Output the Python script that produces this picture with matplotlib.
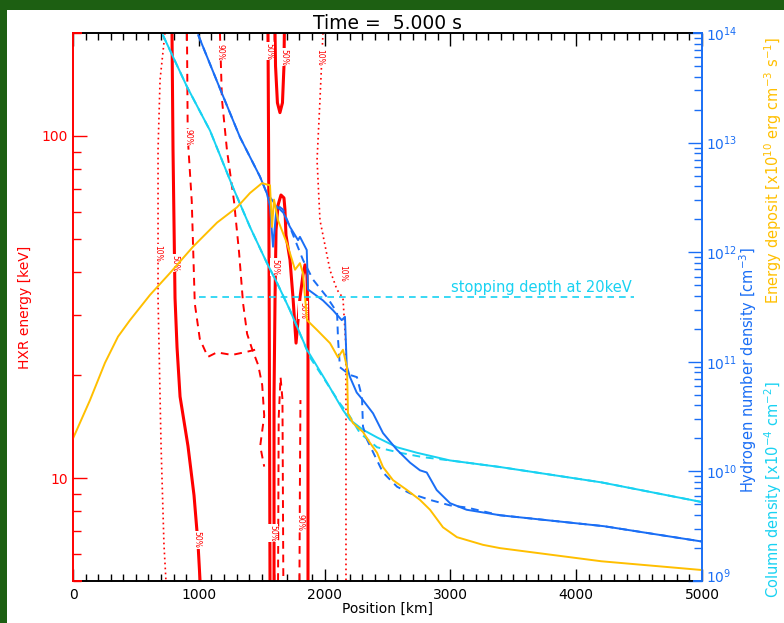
import matplotlib
matplotlib.use("Agg")
import matplotlib.pyplot as plt
from matplotlib.ticker import LogLocator, NullFormatter, FixedLocator, MultipleLocator
from matplotlib.transforms import ScaledTranslation
import numpy as np

plt.rcParams['font.family'] = ['DejaVu Sans']
plt.rcParams['mathtext.default'] = 'regular'

RED = '#ff0000'
BLUE = '#1a6ef5'
CYAN = '#18d2f2'
YEL = '#ffbf00'

# hydrogen number density (log10 cm^-3), t = 5 s (solid) and reference (dashed)
dens_x = [996, 1155, 1327, 1486, 1540, 1566, 1590, 1619, 1672, 1725, 1789, 1804, 1858, 1868,
          1987, 2067, 2136, 2162, 2176, 2202, 2255, 2305, 2385, 2464, 2573, 2679, 2758, 2812,
          2891, 2997, 3129, 3394, 4221, 5000]
dens_y = [13.98, 13.53, 13.05, 12.69, 12.54, 12.42, 12.05, 12.42, 12.36, 12.23, 12.11, 12.14,
          12.02, 11.66, 11.56, 11.47, 11.38, 11.41, 10.96, 10.86, 10.72, 10.65, 10.53, 10.35,
          10.20, 10.08, 10.01, 9.99, 9.83, 9.71, 9.65, 9.60, 9.50, 9.36]
dens0_x = [996, 1155, 1327, 1486, 1540, 1600, 1669, 1828, 1908, 2019, 2099, 2107, 2122, 2202,
           2257, 2297, 2305, 2337, 2417, 2464, 2576, 2679, 2838, 2997, 3132, 3394, 4221, 5000]
dens0_y = [13.98, 13.53, 13.05, 12.69, 12.54, 12.45, 12.39, 11.93, 11.75, 11.59, 11.45, 11.20,
           10.95, 10.88, 10.86, 10.68, 10.41, 10.29, 10.10, 9.99, 9.86, 9.80, 9.74, 9.69, 9.67,
           9.60, 9.50, 9.36]

# column density
col_x = [715, 906, 1089, 1272, 1407, 1542, 1622, 1725, 1860, 2019, 2146, 2202, 2305, 2417,
         2576, 2734, 2997, 3394, 4200, 5000]
col_y = [13.98, 13.51, 13.11, 12.59, 12.23, 11.90, 11.72, 11.47, 11.11, 10.81, 10.56, 10.47,
         10.38, 10.31, 10.22, 10.17, 10.10, 10.04, 9.90, 9.72]
col0_x = [715, 906, 1089, 1272, 1407, 1542, 1622, 1725, 1884, 1987, 2122, 2202, 2281, 2417,
          2599, 2782, 2997, 3394, 4200, 5000]
col0_y = [13.98, 13.51, 13.11, 12.59, 12.23, 11.90, 11.72, 11.47, 11.04, 10.86, 10.62, 10.50,
          10.35, 10.22, 10.17, 10.13, 10.10, 10.04, 9.90, 9.72]

# energy deposit
edep_x = [0, 135, 254, 358, 453, 612, 771, 954, 1145, 1304, 1407, 1502, 1566, 1582, 1598, 1630,
          1701, 1765, 1804, 1828, 1860, 1940, 2043, 2107, 2146, 2178, 2186, 2226, 2305, 2361,
          2417, 2464, 2544, 2655, 2758, 2838, 2941, 3052, 3259, 3394, 4200, 5000]
edep_y = [10.30, 10.65, 10.99, 11.23, 11.38, 11.61, 11.81, 12.05, 12.27, 12.41, 12.54, 12.63,
          12.61, 12.23, 12.48, 12.29, 12.08, 11.84, 11.90, 11.81, 11.38, 11.29, 11.17, 11.04,
          11.11, 10.95, 10.53, 10.44, 10.36, 10.26, 10.17, 10.04, 9.92, 9.83, 9.74, 9.65, 9.49,
          9.40, 9.33, 9.30, 9.18, 9.10]

# stopping depth at 20 keV (column density scale)
stop_x = [1000, 4460]
stop_y = [11.59, 11.59]

# HXR energy contours (km, keV)
c10a_x = [731, 692, 676, 676, 700, 723, 739]
c10a_y = [200, 146, 91.2, 33.6, 12.4, 6.4, 5.0]
c10b_x = [1987, 1963, 1940, 1963, 2043, 2099, 2146, 2170, 2170]
c10b_y = [200, 127, 85.1, 56.8, 40.5, 35.5, 33.6, 24.1, 5.0]
c50a_x = [787, 795, 811, 827, 851, 914, 962, 994, 1010]
c50a_y = [200, 91.2, 33.6, 24.1, 17.3, 12.4, 8.9, 6.4, 5.0]
c50b_x = [1550, 1555, 1560, 1564, 1566]
c50b_y = [200, 90, 30, 9, 5.0]
c50c_x = [1606, 1610, 1625, 1645, 1665, 1677, 1680]
c50c_y = [200, 160, 125, 117, 125, 160, 200]
c50d_x = [1598, 1598, 1606, 1614, 1630, 1653, 1677, 1685, 1693, 1725, 1749, 1773, 1789, 1804,
          1828, 1844, 1860, 1868, 1868]
c50d_y = [5.0, 17.3, 33.6, 53.1, 62.8, 67.2, 65.9, 60.8, 51.3, 43.4, 33.6, 24.8, 29.0, 33.6,
          39.2, 42.0, 39.2, 29.0, 5.0]
c90a_x = [906, 912, 944, 968, 1008, 1072, 1144, 1264, 1384, 1464]
c90a_y = [200, 99.3, 64.4, 32.4, 25.5, 22.6, 23.3, 22.9, 23.4, 23.8]
c90b_x = [1168, 1184, 1224, 1280, 1320, 1352, 1384, 1424, 1472, 1504, 1520, 1488, 1520]
c90b_y = [200, 128, 90.8, 64.4, 45.7, 32.4, 26.4, 23.8, 21.4, 18.7, 15.2, 12.4, 10.8]
c90c_x = [1630, 1635, 1650, 1665, 1672]
c90c_y = [5.0, 15, 19.7, 17, 5.0]
c90d_x = [1800, 1804, 1808]
c90d_y = [5.0, 10, 16.9]

dens_ticks = [1e9, 1e10, 1e11, 1e12, 1e13, 1e14]
dens_labels = ['$10^{9}$', '$10^{10}$', '$10^{11}$', '$10^{12}$', '$10^{13}$', '$10^{14}$']

fig = plt.figure(figsize=(7.84, 6.23), dpi=100, facecolor='#1d5f12')
fig.patches.append(plt.Rectangle((7 / 784, 0), 1, 1 - 10 / 623, transform=fig.transFigure,
                                 facecolor='white', edgecolor='none', zorder=-10))

ax = fig.add_axes([73 / 784, 42 / 623, 629 / 784, 548 / 623])
ax.set_facecolor('white')
ax2 = ax.twinx()

ax.set_xlim(0, 5000)
ax.set_yscale('log')
ax.set_ylim(5, 200)
ax2.set_yscale('log')
ax2.set_ylim(1e9, 1e14)

def p10(v):
    return [10 ** q for q in v]

# HXR contours
for cx, cy in [(c10a_x, c10a_y), (c10b_x, c10b_y)]:
    ax.plot(cx, cy, color=RED, lw=1.2, ls=(0, (1, 2)))
for cx, cy in [(c50a_x, c50a_y), (c50b_x, c50b_y), (c50c_x, c50c_y), (c50d_x, c50d_y)]:
    ax.plot(cx, cy, color=RED, lw=2.2)
for cx, cy in [(c90a_x, c90a_y), (c90b_x, c90b_y), (c90c_x, c90c_y), (c90d_x, c90d_y)]:
    ax.plot(cx, cy, color=RED, lw=1.4, ls=(0, (4, 3)))

lab = dict(color=RED, fontsize=5.5, rotation=-90, ha='center', va='center',
           bbox=dict(facecolor='white', edgecolor='none', pad=0.3))
for lx, ly, lt in [(676, 45.5, '10%'), (811, 42.5, '50%'), (984, 6.6, '50%'),
                   (914, 99, '90%'), (1168, 176, '90%'), (1558, 177, '50%'),
                   (1677, 170, '50%'), (1963, 170, '10%'), (2146, 39.7, '10%'),
                   (1606, 41.4, '50%'), (1828, 31.0, '50%'), (1590, 6.9, '50%'),
                   (1804, 7.4, '90%')]:
    ax.text(lx, ly, lt, **lab)

# right-axis curves
ax2.plot(col0_x, p10(col0_y), color=CYAN, lw=1.4, ls=(0, (4, 3)))
ax2.plot(col_x, p10(col_y), color=CYAN, lw=1.4)
ax2.plot(dens0_x, p10(dens0_y), color=BLUE, lw=1.4, ls=(0, (4, 3)))
ax2.plot(dens_x, p10(dens_y), color=BLUE, lw=1.4)
ax2.plot(edep_x, p10(edep_y), color=YEL, lw=1.4)
ax2.plot(stop_x, p10(stop_y), color=CYAN, lw=1.2, ls=(0, (4, 3)))
ax2.text(3720, 10 ** 11.637, 'stopping depth at 20keV', color=CYAN, fontsize=10.5,
         ha='center', va='baseline')

ax.set_xlabel('Position [km]', fontsize=10, labelpad=0)
ax.set_ylabel('HXR energy [keV]', color=RED, fontsize=10, labelpad=7)
ax.set_title('Time =  5.000 s', fontsize=13.5, pad=3)

ax.xaxis.set_major_locator(MultipleLocator(1000))
ax.xaxis.set_minor_locator(MultipleLocator(100))
ax.tick_params(axis='x', which='both', direction='in', top=True, bottom=True, colors='black',
               labelsize=10, pad=5)
ax.tick_params(axis='x', which='major', length=9, width=1)
ax.tick_params(axis='x', which='minor', length=5, width=1)

ax.yaxis.set_major_locator(FixedLocator([10, 100]))
ax.yaxis.set_minor_locator(LogLocator(base=10, subs=np.arange(2, 10)))
ax.yaxis.set_minor_formatter(NullFormatter())
ax.set_yticklabels(['10', '100'])
ax.tick_params(axis='y', which='both', direction='in', colors=RED, labelsize=10, left=True, right=False)
ax.tick_params(axis='y', which='major', length=10, width=1)
ax.tick_params(axis='y', which='minor', length=6, width=1)

ax2.yaxis.set_major_locator(FixedLocator(dens_ticks))
ax2.yaxis.set_minor_locator(LogLocator(base=10, subs=np.arange(2, 10)))
ax2.yaxis.set_minor_formatter(NullFormatter())
ax2.set_yticklabels(dens_labels)
ax2.tick_params(axis='y', which='both', direction='in', colors=BLUE, labelsize=10, pad=3)
ax2.tick_params(axis='y', which='major', length=10, width=1)
ax2.tick_params(axis='y', which='minor', length=6, width=1)
bottom_lbl = ax2.get_yticklabels()[0]
bottom_lbl.set_transform(bottom_lbl.get_transform() + ScaledTranslation(0, 4 / 72, fig.dpi_scale_trans))

for a in (ax, ax2):
    a.spines['left'].set_color(RED)
    a.spines['right'].set_color(BLUE)
    a.spines['top'].set_color('black')
    a.spines['bottom'].set_color('black')
    for s in a.spines.values():
        s.set_linewidth(1.2)

# coloured corners of the IDL axis box
for xs, c in [((0, 0.012), RED), ((0.988, 1), BLUE)]:
    for yv in (0, 1):
        ax2.plot(xs, (yv, yv), color=c, lw=1.4, transform=ax2.transAxes, clip_on=False, zorder=5)

fig.text(748 / 784, 1 - 370 / 623, 'Hydrogen number density [cm$^{-3}$]', color=BLUE,
         rotation=90, ha='center', va='center', fontsize=10.5)
fig.text(773 / 784, 1 - 170 / 623, 'Energy deposit [x10$^{10}$ erg cm$^{-3}$ s$^{-1}$]', color=YEL,
         rotation=90, ha='center', va='center', fontsize=10.5)
fig.text(773 / 784, 1 - 490 / 623, 'Column density [x10$^{-4}$ cm$^{-2}$]', color=CYAN,
         rotation=90, ha='center', va='center', fontsize=10.5)

fig.savefig('out.png', dpi=100, facecolor=fig.get_facecolor())
